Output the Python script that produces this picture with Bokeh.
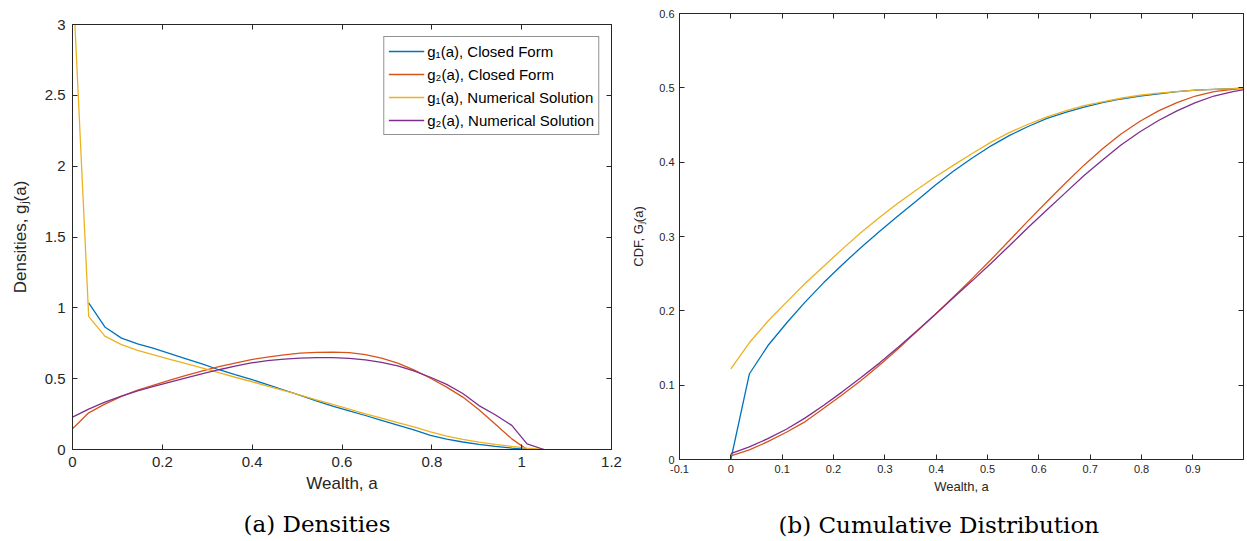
import numpy as np
from bokeh.plotting import figure
from bokeh.models import (Range1d, FixedTicker, LinearAxis, Legend, LegendItem,
                          CustomJSTickFormatter, Title)
from bokeh.layouts import row
from bokeh.embed import file_html
from bokeh.resources import INLINE

nan = float("nan")

# ---------------- data ----------------
wealth = [0.000, 0.036, 0.072, 0.109, 0.145, 0.181, 0.217, 0.253, 0.290, 0.326,
          0.362, 0.398, 0.434, 0.471, 0.507, 0.543, 0.579, 0.616, 0.652, 0.688,
          0.724, 0.760, 0.797, 0.833, 0.869, 0.905, 0.941, 0.978, 1.012, 1.050]

# densities
g1_closed = [nan, 1.035, 0.865, 0.786, 0.745, 0.713, 0.677, 0.640, 0.602, 0.563,
             0.528, 0.495, 0.458, 0.420, 0.382, 0.343, 0.307, 0.273, 0.240, 0.206,
             0.172, 0.138, 0.100, 0.073, 0.053, 0.036, 0.022, 0.010, 0.000, nan]
g2_closed = [0.146, 0.259, 0.320, 0.375, 0.420, 0.455, 0.490, 0.523, 0.555, 0.585,
             0.610, 0.635, 0.652, 0.668, 0.680, 0.686, 0.688, 0.684, 0.670, 0.645,
             0.610, 0.562, 0.503, 0.440, 0.370, 0.280, 0.180, 0.075, 0.000, nan]
g1_numerical = [3.36, 0.940, 0.800, 0.740, 0.700, 0.668, 0.637, 0.606, 0.575, 0.542,
                0.510, 0.480, 0.448, 0.416, 0.384, 0.350, 0.318, 0.285, 0.252, 0.222,
                0.190, 0.160, 0.125, 0.095, 0.072, 0.052, 0.036, 0.022, 0.010, 0.000]
g2_numerical = [0.228, 0.285, 0.334, 0.376, 0.413, 0.445, 0.476, 0.505, 0.535, 0.563,
                0.589, 0.611, 0.627, 0.638, 0.645, 0.649, 0.649, 0.643, 0.633, 0.615,
                0.590, 0.555, 0.510, 0.460, 0.395, 0.310, 0.245, 0.170, 0.040, 0.000]

# cumulative distributions
G1_closed = [0.000, 0.115, 0.153, 0.184, 0.212, 0.238, 0.262, 0.285, 0.307, 0.328,
             0.348, 0.369, 0.388, 0.406, 0.422, 0.436, 0.448, 0.459, 0.467, 0.474,
             0.480, 0.485, 0.489, 0.492, 0.495, 0.497, 0.498, 0.499, 0.500, 0.500]
G2_closed = [0.005, 0.013, 0.024, 0.037, 0.051, 0.069, 0.087, 0.106, 0.127, 0.149,
             0.172, 0.195, 0.219, 0.244, 0.269, 0.295, 0.321, 0.347, 0.372, 0.396,
             0.418, 0.438, 0.455, 0.469, 0.480, 0.489, 0.495, 0.498, 0.500, 0.500]
G1_numerical = [0.122, 0.157, 0.186, 0.212, 0.237, 0.260, 0.283, 0.305, 0.326, 0.345,
                0.363, 0.380, 0.396, 0.412, 0.427, 0.440, 0.451, 0.461, 0.469, 0.476,
                0.481, 0.486, 0.490, 0.493, 0.495, 0.497, 0.498, 0.499, 0.500, 0.500]
G2_numerical = [0.008, 0.017, 0.028, 0.041, 0.056, 0.073, 0.091, 0.110, 0.130, 0.151,
                0.173, 0.195, 0.218, 0.241, 0.264, 0.288, 0.312, 0.336, 0.359, 0.382,
                0.403, 0.423, 0.441, 0.456, 0.469, 0.480, 0.489, 0.495, 0.499, 0.500]

labels = ["g\u2081(a), Closed Form", "g\u2082(a), Closed Form",
          "g\u2081(a), Numerical Solution", "g\u2082(a), Numerical Solution"]
colors = ["#0072BD", "#D95319", "#EDB120", "#7E2F8E"]

left_xticks = [0, 0.2, 0.4, 0.6, 0.8, 1.0, 1.2]
left_yticks = [0, 0.5, 1.0, 1.5, 2.0, 2.5, 3.0]
right_xticks = [-0.1, 0, 0.1, 0.2, 0.3, 0.4, 0.5, 0.6, 0.7, 0.8, 0.9]
right_yticks = [0, 0.1, 0.2, 0.3, 0.4, 0.5, 0.6]

# ---------------- styling helpers ----------------
AX = "#262626"
SANS = "Liberation Sans"
SERIF = "DejaVu Serif"
fmt_code = "return String(parseFloat(tick.toFixed(2)));"


def style_axis(ax, ticks, font_size, standoff):
    ax.ticker = FixedTicker(ticks=ticks)
    ax.formatter = CustomJSTickFormatter(code=fmt_code)
    ax.major_tick_in = 5
    ax.major_tick_out = 0
    ax.minor_tick_line_color = None
    ax.axis_line_color = AX
    ax.major_tick_line_color = AX
    ax.major_label_text_color = AX
    ax.major_label_text_font = SANS
    ax.major_label_text_font_size = font_size
    ax.major_label_standoff = standoff
    ax.axis_label_text_color = AX
    ax.axis_label_text_font = SANS
    ax.axis_label_text_font_style = "normal"


def mirror_axis(p, ticks, side):
    ax = LinearAxis(ticker=FixedTicker(ticks=ticks),
                    formatter=CustomJSTickFormatter(code="return '';"),
                    major_tick_in=5, major_tick_out=0,
                    minor_tick_line_color=None,
                    axis_line_color=AX, major_tick_line_color=AX,
                    major_label_text_font_size="0px",
                    major_label_standoff=0)
    p.add_layout(ax, side)


def spacer(p, size):
    # blank strip that pushes the caption a little further below the x axis
    t = Title(text="\u00a0", text_font_size="1px", standoff=size,
              text_color="white")
    p.add_layout(t, "below")


def make_fig(xr, yr, fw, fh, bl, bt, br, bb):
    p = figure(x_range=Range1d(*xr), y_range=Range1d(*yr),
               frame_width=fw, frame_height=fh, title=None,
               output_backend="svg", toolbar_location=None,
               min_border_left=bl, min_border_top=bt,
               min_border_right=br, min_border_bottom=bb)
    try:
        p.frame_align = False
    except Exception:
        pass
    p.xgrid.visible = False
    p.ygrid.visible = False
    p.outline_line_color = AX
    p.outline_line_width = 1
    p.background_fill_color = "white"
    p.border_fill_color = "white"
    return p


def caption(p, text, offset):
    t = Title(text=text, align="left", offset=offset, standoff=2,
              vertical_align="bottom", text_font=SERIF,
              text_font_size="23px", text_font_style="normal",
              text_color="black")
    p.add_layout(t, "below")


# ---------------- (a) densities ----------------
pa = make_fig((0, 1.2), (0, 3), 539, 425, 72, 24, 14, 60)
style_axis(pa.xaxis[0], left_xticks, "15px", 7)
style_axis(pa.yaxis[0], left_yticks, "15px", 7)
pa.xaxis[0].axis_label = "Wealth, a"
pa.yaxis[0].axis_label = "Densities, g\u2c7c(a)"
pa.xaxis[0].axis_label_text_font_size = "17px"
pa.yaxis[0].axis_label_text_font_size = "17px"
pa.xaxis[0].axis_label_standoff = 4
pa.yaxis[0].axis_label_standoff = 12
mirror_axis(pa, left_xticks, "above")
mirror_axis(pa, left_yticks, "right")

dens = [g1_closed, g2_closed, g1_numerical, g2_numerical]
items = []
for ys, c, lab in zip(dens, colors, labels):
    r = pa.line(np.array(wealth, dtype=float), np.array(ys, dtype=float),
                line_color=c, line_width=1.3)
    items.append(LegendItem(label=lab, renderers=[r]))

leg = Legend(items=items, location="top_right", margin=12, padding=4,
             spacing=3, label_height=20, glyph_height=20, glyph_width=36,
             label_standoff=3, label_text_font=SANS,
             label_text_font_size="15px", label_text_color="black",
             border_line_color=AX, border_line_width=1,
             background_fill_color="white", background_fill_alpha=1)
pa.add_layout(leg)

spacer(pa, 9)
caption(pa, "(a) Densities", 171)

# ---------------- (b) cumulative distribution ----------------
pb = make_fig((-0.1, 0.9986), (0, 0.6), 564, 446, 54, 13, 3, 50)
style_axis(pb.xaxis[0], right_xticks, "11px", 5)
style_axis(pb.yaxis[0], right_yticks, "11px", 5)
pb.xaxis[0].axis_label = "Wealth, a"
pb.yaxis[0].axis_label = "CDF, G\u2c7c(a)"
pb.xaxis[0].axis_label_text_font_size = "13px"
pb.yaxis[0].axis_label_text_font_size = "13px"
pb.xaxis[0].axis_label_standoff = 3
pb.yaxis[0].axis_label_standoff = 10
mirror_axis(pb, right_xticks, "above")
mirror_axis(pb, right_yticks, "right")

cdfs = [G1_closed, G2_closed, G1_numerical, G2_numerical]
for ys, c in zip(cdfs, colors):
    pb.line(np.array(wealth, dtype=float), np.array(ys, dtype=float),
            line_color=c, line_width=1.3)

spacer(pb, 9)
caption(pb, "(b) Cumulative Distribution", 99)

layout = row(pa, pb, spacing=0)
open("out.html", "w").write(file_html(layout, INLINE))
